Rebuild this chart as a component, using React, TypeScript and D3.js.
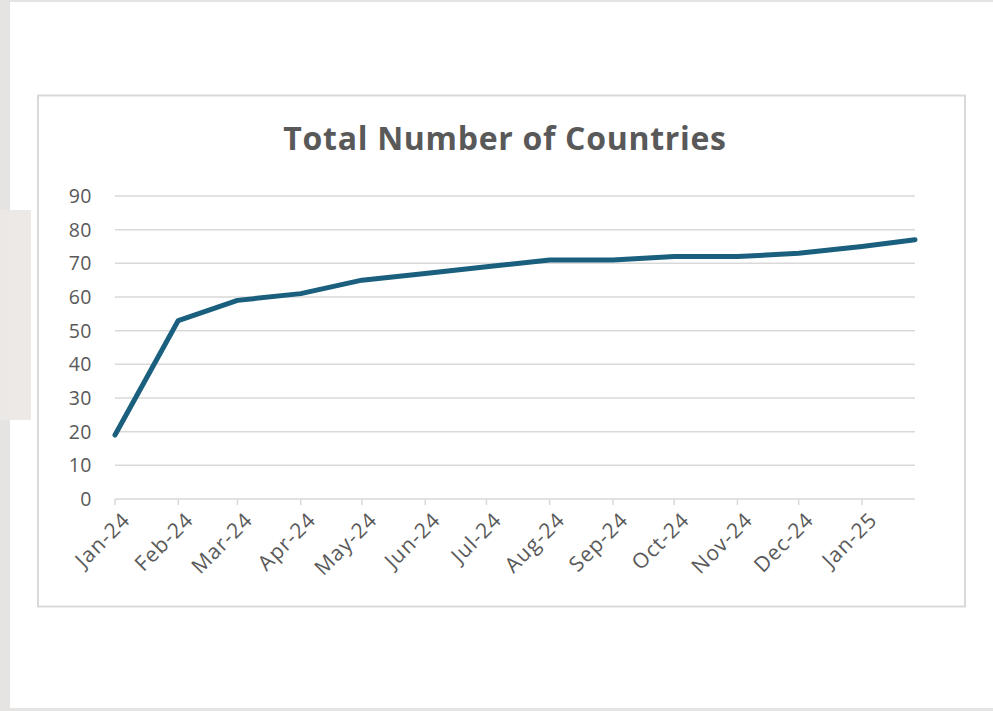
import React from "react";
import * as d3 from "d3";

// Monthly running total of countries
const dates: string[] = [
  "2024-01-01", "2024-02-01", "2024-03-01", "2024-04-01", "2024-05-01",
  "2024-06-01", "2024-07-01", "2024-08-01", "2024-09-01", "2024-10-01",
  "2024-11-01", "2024-12-01", "2025-01-01", "2025-01-27",
];
const countries: number[] = [19, 53, 59, 61, 65, 67, 69, 71, 71, 72, 72, 73, 75, 77];
const yTicks: number[] = [0, 10, 20, 30, 40, 50, 60, 70, 80, 90];
const monthTicks: string[] = [
  "2024-01-01", "2024-02-01", "2024-03-01", "2024-04-01", "2024-05-01",
  "2024-06-01", "2024-07-01", "2024-08-01", "2024-09-01", "2024-10-01",
  "2024-11-01", "2024-12-01", "2025-01-01",
];

const W = 993;
const H = 711;
const FONT = "'Open Sans', 'Noto Sans', sans-serif";
const TEXT = "#595959";
const GRID = "#d9d9d9";
const LINE = "#1a5f7e";

export default function App() {
  const parse = d3.utcParse("%Y-%m-%d");
  const data = dates.map((d, i) => ({ date: parse(d) as Date, value: countries[i] }));
  const fmt = d3.utcFormat("%b-%y");

  const x = d3
    .scaleUtc()
    .domain([data[0].date, data[data.length - 1].date])
    .range([115, 915]);
  const y = d3.scaleLinear().domain([0, 90]).range([499, 196]);

  const line = d3
    .line<{ date: Date; value: number }>()
    .x((d) => x(d.date))
    .y((d) => y(d.value));

  return (
    <svg
      width={W}
      height={H}
      style={{ position: "fixed", left: 0, top: 0, display: "block" }}
    >
      {/* surrounding page */}
      <rect x={0} y={0} width={W} height={H} fill="#e6e4e2" />
      <rect x={10} y={2} width={W - 10} height={706} fill="#ffffff" />
      <rect x={0} y={210} width={31} height={210} fill="#ebe8e5" />
      <rect x={10} y={210} width={21} height={210} fill="#ece9e6" />

      {/* chart frame */}
      <rect
        x={38}
        y={95.5}
        width={927}
        height={511}
        fill="#ffffff"
        stroke={GRID}
        strokeWidth={2}
      />

      <text
        x={505}
        y={150}
        textAnchor="middle"
        fontFamily={FONT}
        fontWeight={700}
        fontSize={32}
        letterSpacing={0.7}
        fill={TEXT}
      >
        Total Number of Countries
      </text>

      {/* gridlines and y labels */}
      {yTicks.map((t) => (
        <g key={t}>
          {t > 0 && (
            <line x1={115} x2={915} y1={y(t)} y2={y(t)} stroke={GRID} strokeWidth={1.5} />
          )}
          <text
            x={92}
            y={y(t)}
            dy="0.36em"
            textAnchor="end"
            fontFamily={FONT}
            fontSize={19.5}
            letterSpacing={0.5}
            fill={TEXT}
          >
            {t}
          </text>
        </g>
      ))}

      {/* x axis */}
      <line x1={115} x2={915} y1={y(0)} y2={y(0)} stroke={GRID} strokeWidth={1.5} />
      {monthTicks.map((m) => {
        const d = parse(m) as Date;
        const px = x(d);
        return (
          <g key={m}>
            <line x1={px} x2={px} y1={y(0)} y2={y(0) + 6} stroke={GRID} strokeWidth={1.5} />
            <text
              transform={`translate(${px + 6},${y(0) + 12}) rotate(-45)`}
              textAnchor="end"
              dy="0.7em"
              fontFamily={FONT}
              fontSize={21}
              letterSpacing={1}
              fill={TEXT}
            >
              {fmt(d)}
            </text>
          </g>
        );
      })}

      <path
        d={line(data) ?? ""}
        fill="none"
        stroke={LINE}
        strokeWidth={5}
        strokeLinejoin="round"
        strokeLinecap="round"
      />
    </svg>
  );
}
